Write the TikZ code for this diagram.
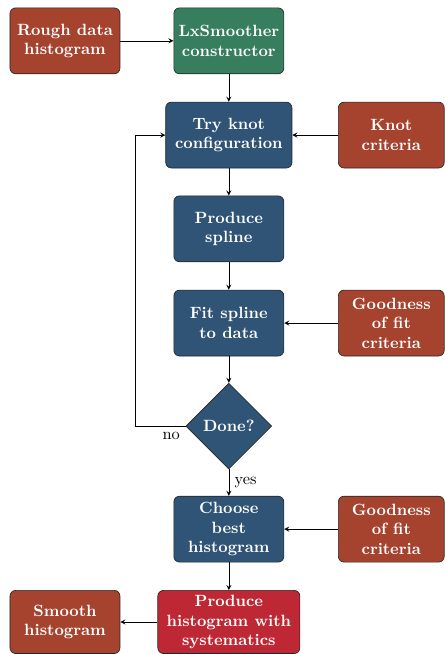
\documentclass[tikz,border=0pt]{standalone}
\usepackage{tikz}
\usetikzlibrary{shapes.geometric}

\definecolor{rust}{RGB}{165,67,47}
\definecolor{pine}{RGB}{54,126,94}
\definecolor{slate}{RGB}{47,84,117}
\definecolor{crimson}{RGB}{190,40,52}

\tikzset{
  box/.style={draw=black!85,rounded corners=3.5pt,align=center,text=white,
    font=\bfseries,minimum width=2.37cm,minimum height=1.42cm,inner sep=2pt},
  inbox/.style={box,fill=rust},
  stepbox/.style={box,fill=slate},
  decision/.style={diamond,draw=black!85,fill=slate,text=white,font=\bfseries,
    minimum width=1.85cm,minimum height=1.85cm,inner sep=0pt,aspect=1},
  flow/.style={->,>=stealth}
}

\begin{document}
\begin{tikzpicture}[x=1cm,y=1cm]
    \useasboundingbox (0,0) rectangle (9.57,-14.09);
    \node[inbox] (rough) at (1.40,-0.88) {Rough data\\histogram};
    \node[box,fill=pine] (ctor) at (4.93,-0.88) {LxSmoother\\constructor};
    \node[stepbox,minimum width=2.72cm] (try) at (4.93,-2.91) {Try knot\\configuration};
    \node[inbox,minimum width=2.28cm] (knot) at (8.43,-2.91) {Knot\\criteria};
    \node[stepbox] (spline) at (4.93,-4.93) {Produce\\spline};
    \node[stepbox] (fit) at (4.93,-6.96) {Fit spline\\to data};
    \node[inbox,minimum width=2.28cm] (gof) at (8.43,-6.96) {Goodness\\of fit\\criteria};
    \node[decision] (done) at (4.93,-9.18) {Done?};
    \node[stepbox] (best) at (4.93,-11.40) {Choose\\best\\histogram};
    \node[inbox,minimum width=2.28cm] (gofb) at (8.43,-11.40) {Goodness\\of fit\\criteria};
    \node[box,fill=crimson,minimum width=3.06cm,minimum height=1.36cm] (syst) at (4.93,-13.40) {Produce\\histogram with\\systematics};
    \node[inbox,minimum height=1.36cm] (smooth) at (1.40,-13.40) {Smooth\\histogram};
    \coordinate (loop) at (2.91,-9.18);

    \draw[flow] (rough)--(ctor);
    \draw[flow] (ctor)--(try);
    \draw[flow] (knot)--(try);
    \draw[flow] (try)--(spline);
    \draw[flow] (spline)--(fit);
    \draw[flow] (gof)--(fit);
    \draw[flow] (fit)--(done);
    \draw[flow] (done.west)node[below left]{no}--(loop)|-(try.west);
    \draw[flow] (done)--node[right]{yes}(best);
    \draw[flow] (gofb)--(best);
    \draw[flow] (best)--(syst);
    \draw[flow] (syst)--(smooth);
  \end{tikzpicture}
\end{document}
